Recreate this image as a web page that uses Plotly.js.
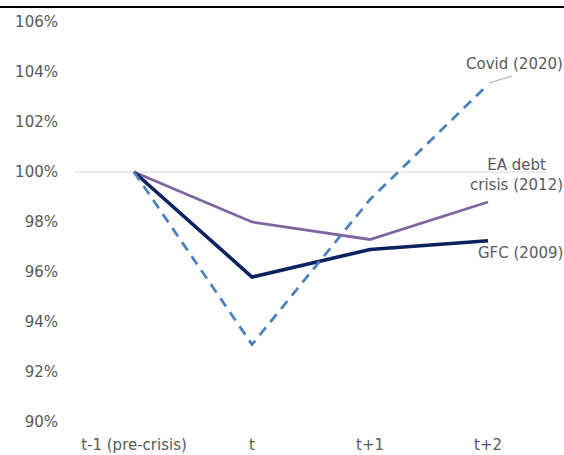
<!DOCTYPE html>
<html>
<head>
<meta charset="utf-8">
<script src="https://cdn.plot.ly/plotly-3.0.1.min.js"></script>
<style>html,body{margin:0;padding:0;background:#fff;}#chart{width:564px;height:455px;}</style>
</head>
<body>
<div id="chart"></div>
<script>
var categories = ["t-1 (pre-crisis)", "t", "t+1", "t+2"];
var covid = [100, 93.1, 98.9, 103.5];
var gfc = [100, 95.8, 96.9, 97.25];
var eaDebt = [100, 98.0, 97.3, 98.8];
var yTicks = [90, 92, 94, 96, 98, 100, 102, 104, 106];
var yTickText = yTicks.map(function(v){ return v + "%"; });

var font = {family: "DejaVu Sans, Verdana, sans-serif", size: 15, color: "#595959"};

var traces = [
  {x: categories, y: eaDebt, type: "scatter", mode: "lines", name: "EA debt crisis (2012)",
   line: {color: "#8064A2", width: 2.8}},
  {x: categories, y: gfc, type: "scatter", mode: "lines", name: "GFC (2009)",
   line: {color: "#0B2160", width: 3.6}},
  {x: categories, y: covid, type: "scatter", mode: "lines", name: "Covid (2020)",
   line: {color: "#4F81BD", width: 2.8, dash: "10px,7px"}}
];

var layout = {
  width: 564, height: 455,
  margin: {l: 75, r: 17, t: 22, b: 33},
  paper_bgcolor: "#ffffff", plot_bgcolor: "#ffffff",
  showlegend: false,
  font: font,
  xaxis: {type: "category", range: [-0.5, 3.5], showgrid: false, zeroline: false,
          showline: false, ticks: "", tickfont: font, ticklabelstandoff: 12, fixedrange: true},
  yaxis: {range: [90, 106], tickvals: yTicks, ticktext: yTickText, showgrid: false,
          zeroline: false, showline: false, ticks: "", tickfont: font, ticklabelstandoff: 16, fixedrange: true},
  shapes: [
    {type: "line", xref: "paper", yref: "y", x0: 0, x1: 1, y0: 100, y1: 100,
     line: {color: "#D9D9D9", width: 1}, layer: "below"},
    {type: "line", xref: "paper", yref: "paper", x0: -75/472, x1: 489/472, y0: 1.0375, y1: 1.0375,
     line: {color: "#000000", width: 2}},
    {type: "line", xref: "paper", yref: "paper", x0: (489-75)/472, x1: (512-75)/472,
     y0: (422-83)/400, y1: (422-76)/400, line: {color: "#A6A6A6", width: 1}}
  ],
  annotations: [
    {xref: "paper", yref: "paper", x: (565-75)/472, y: (422-64)/400, xanchor: "right", yanchor: "middle",
     text: "Covid (2020)", showarrow: false, font: font},
    {xref: "paper", yref: "paper", x: (565-75)/472, y: (422-175)/400, xanchor: "right", yanchor: "middle",
     text: "EA debt<br>crisis (2012)", align: "center", showarrow: false, font: font},
    {xref: "paper", yref: "paper", x: (565-75)/472, y: (422-253)/400, xanchor: "right", yanchor: "middle",
     text: "GFC (2009)", showarrow: false, font: font}
  ]
};

Plotly.newPlot("chart", traces, layout, {displayModeBar: false, staticPlot: true});
</script>
</body>
</html>
